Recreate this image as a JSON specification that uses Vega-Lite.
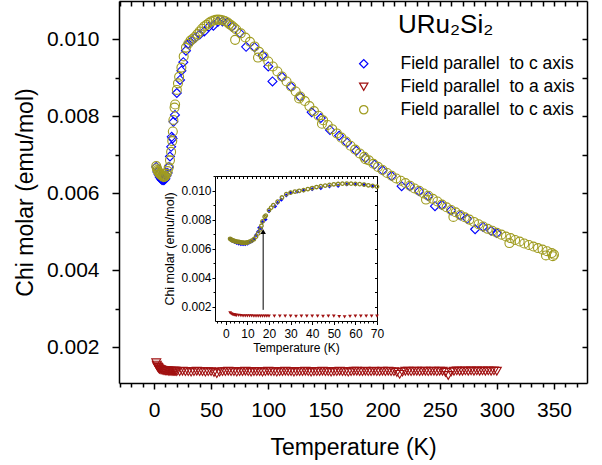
{
  "$schema": "https://vega.github.io/schema/vega-lite/v6.json",
  "width": 468,
  "height": 382,
  "autosize": {"type": "none"},
  "padding": {"left": 119, "top": 1, "right": 15, "bottom": 82},
  "background": "white",
  "title": {
    "text": "URu\u2082Si\u2082",
    "anchor": "start",
    "frame": "group",
    "baseline": "alphabetic",
    "offset": 0,
    "dx": 279,
    "dy": 59,
    "font": "Liberation Sans",
    "fontSize": 26,
    "fontWeight": "normal",
    "color": "black"
  },
  "config": {
    "font": "Liberation Sans",
    "view": {"stroke": null},
    "axis": {
      "grid": false,
      "domainColor": "black",
      "tickColor": "black",
      "labelColor": "black",
      "titleColor": "black",
      "labelFont": "Liberation Sans",
      "titleFont": "Liberation Sans",
      "labelFontWeight": "normal",
      "titleFontWeight": "normal",
      "labelOverlap": false,
      "labelFlush": false,
      "labelBound": false
    },
    "legend": {
      "labelFont": "Liberation Sans",
      "labelFontWeight": "normal",
      "labelColor": "black",
      "labelFontSize": 17.5,
      "labelLimit": 300,
      "symbolSize": 70,
      "symbolStrokeWidth": 1.2,
      "labelOffset": 28,
      "rowPadding": 4,
      "padding": 0
    }
  },
  "datasets": {
    "pts": [
      {"s":"c1","T":2,"chi":0.00668},{"s":"c1","T":3,"chi":0.00655},{"s":"c1","T":4,"chi":0.00648},{"s":"c1","T":5,"chi":0.00642},{"s":"c1","T":6,"chi":0.00637},{"s":"c1","T":7,"chi":0.00634},{"s":"c1","T":8,"chi":0.00633},{"s":"c1","T":9,"chi":0.00634},{"s":"c1","T":10,"chi":0.00637},{"s":"c1","T":11,"chi":0.00645},{"s":"c1","T":12,"chi":0.00652},{"s":"c1","T":13,"chi":0.00668},{"s":"c1","T":14,"chi":0.00695},{"s":"c1","T":15,"chi":0.0072},{"s":"c1","T":15.5,"chi":0.00746},{"s":"c1","T":16.3,"chi":0.00742},{"s":"c1","T":17,"chi":0.00785},{"s":"c1","T":18.4,"chi":0.00803},{"s":"c1","T":20,"chi":0.0086},{"s":"c1","T":22.8,"chi":0.00894},{"s":"c1","T":24,"chi":0.00918},{"s":"c1","T":25.7,"chi":0.0094},{"s":"c1","T":28,"chi":0.0097},{"s":"c1","T":30,"chi":0.00988},{"s":"c1","T":33,"chi":0.00996},{"s":"c1","T":36,"chi":0.01003},{"s":"c1","T":40,"chi":0.01012},{"s":"c1","T":44,"chi":0.0102},{"s":"c1","T":48,"chi":0.01032},{"s":"c1","T":52,"chi":0.01035},{"s":"c1","T":56,"chi":0.01045},{"s":"c1","T":60,"chi":0.01046},{"s":"c1","T":64,"chi":0.01043},{"s":"c1","T":68,"chi":0.01032},{"s":"c1","T":75,"chi":0.01016},{"s":"c1","T":80.6,"chi":0.0098},{"s":"c1","T":88,"chi":0.00979},{"s":"c1","T":95,"chi":0.00958},{"s":"c1","T":100,"chi":0.00929},{"s":"c1","T":103.7,"chi":0.0089},{"s":"c1","T":112,"chi":0.00902},{"s":"c1","T":120,"chi":0.00876},{"s":"c1","T":128,"chi":0.0085},{"s":"c1","T":138,"chi":0.0081},{"s":"c1","T":146,"chi":0.00795},{"s":"c1","T":154,"chi":0.00764},{"s":"c1","T":162,"chi":0.00749},{"s":"c1","T":169,"chi":0.00731},{"s":"c1","T":177,"chi":0.0071},{"s":"c1","T":185,"chi":0.00691},{"s":"c1","T":193,"chi":0.00674},{"s":"c1","T":200,"chi":0.00659},{"s":"c1","T":208,"chi":0.00644},{"s":"c1","T":216.7,"chi":0.00618},{"s":"c1","T":224,"chi":0.00618},{"s":"c1","T":232,"chi":0.00605},{"s":"c1","T":240,"chi":0.00592},{"s":"c1","T":245.9,"chi":0.00566},{"s":"c1","T":252,"chi":0.00569},{"s":"c1","T":260,"chi":0.00555},{"s":"c1","T":268,"chi":0.00542},{"s":"c1","T":274,"chi":0.00533},{"s":"c1","T":281,"chi":0.00506},{"s":"c1","T":288,"chi":0.00512},{"s":"c1","T":295,"chi":0.00502},{"s":"c1","T":300,"chi":0.00496},
      {"s":"a","T":2,"chi":0.00159},{"s":"a","T":2.5,"chi":0.00153},{"s":"a","T":3,"chi":0.00149},{"s":"a","T":3.5,"chi":0.00147},{"s":"a","T":4,"chi":0.00145},{"s":"a","T":4.5,"chi":0.00143},{"s":"a","T":5,"chi":0.00142},{"s":"a","T":6,"chi":0.00141},{"s":"a","T":7,"chi":0.0014},{"s":"a","T":8,"chi":0.00139},{"s":"a","T":9,"chi":0.00139},{"s":"a","T":10,"chi":0.00138},{"s":"a","T":11,"chi":0.00138},{"s":"a","T":12,"chi":0.00138},{"s":"a","T":13,"chi":0.00137},{"s":"a","T":14,"chi":0.00137},{"s":"a","T":15,"chi":0.00137},{"s":"a","T":16,"chi":0.00137},{"s":"a","T":17,"chi":0.00137},{"s":"a","T":18,"chi":0.00137},{"s":"a","T":19,"chi":0.00137},{"s":"a","T":20,"chi":0.00136},
      {"s":"a","T":22.5,"chi":0.00136},{"s":"a","T":25,"chi":0.00137},{"s":"a","T":27.5,"chi":0.00136},{"s":"a","T":30,"chi":0.00136},{"s":"a","T":32.5,"chi":0.00135},{"s":"a","T":35,"chi":0.00136},{"s":"a","T":37.5,"chi":0.00137},{"s":"a","T":40,"chi":0.00136},{"s":"a","T":42.5,"chi":0.00136},{"s":"a","T":45,"chi":0.00135},{"s":"a","T":47.5,"chi":0.00136},{"s":"a","T":50,"chi":0.00136},{"s":"a","T":52.5,"chi":0.00134},{"s":"a","T":55,"chi":0.00131},{"s":"a","T":57.5,"chi":0.00135},{"s":"a","T":60,"chi":0.00136},{"s":"a","T":62.5,"chi":0.00136},{"s":"a","T":65,"chi":0.00137},{"s":"a","T":67.5,"chi":0.00136},{"s":"a","T":70,"chi":0.00136},{"s":"a","T":72.5,"chi":0.00135},{"s":"a","T":75,"chi":0.00136},{"s":"a","T":77.5,"chi":0.00136},{"s":"a","T":80,"chi":0.00137},{"s":"a","T":82.5,"chi":0.00136},{"s":"a","T":85,"chi":0.00135},{"s":"a","T":87.5,"chi":0.00136},{"s":"a","T":90,"chi":0.00136},{"s":"a","T":92.5,"chi":0.00136},{"s":"a","T":95,"chi":0.00135},{"s":"a","T":97.5,"chi":0.00136},{"s":"a","T":100,"chi":0.00137},{"s":"a","T":102.5,"chi":0.00136},{"s":"a","T":105,"chi":0.00136},{"s":"a","T":107.5,"chi":0.00135},{"s":"a","T":110,"chi":0.00136},{"s":"a","T":112.5,"chi":0.00136},{"s":"a","T":115,"chi":0.00137},{"s":"a","T":117.5,"chi":0.00136},{"s":"a","T":120,"chi":0.00136},{"s":"a","T":122.5,"chi":0.00135},{"s":"a","T":125,"chi":0.00136},{"s":"a","T":127.5,"chi":0.00136},{"s":"a","T":130,"chi":0.00136},{"s":"a","T":132.5,"chi":0.00137},{"s":"a","T":135,"chi":0.00136},{"s":"a","T":137.5,"chi":0.00135},{"s":"a","T":140,"chi":0.00136},{"s":"a","T":142.5,"chi":0.00136},{"s":"a","T":145,"chi":0.00136},{"s":"a","T":147.5,"chi":0.00137},{"s":"a","T":150,"chi":0.00136},{"s":"a","T":152.5,"chi":0.00136},{"s":"a","T":155,"chi":0.00135},{"s":"a","T":157.5,"chi":0.00136},{"s":"a","T":160,"chi":0.00136},{"s":"a","T":162.5,"chi":0.00137},{"s":"a","T":165,"chi":0.00136},{"s":"a","T":167.5,"chi":0.00136},{"s":"a","T":170,"chi":0.00135},{"s":"a","T":172.5,"chi":0.00136},{"s":"a","T":175,"chi":0.00137},{"s":"a","T":177.5,"chi":0.00137},{"s":"a","T":180,"chi":0.00136},{"s":"a","T":182.5,"chi":0.00136},{"s":"a","T":185,"chi":0.00137},{"s":"a","T":187.5,"chi":0.00136},{"s":"a","T":190,"chi":0.00136},{"s":"a","T":192.5,"chi":0.00137},{"s":"a","T":195,"chi":0.00136},{"s":"a","T":197.5,"chi":0.00136},{"s":"a","T":200,"chi":0.00137},{"s":"a","T":202.5,"chi":0.00136},{"s":"a","T":205,"chi":0.00137},{"s":"a","T":207.5,"chi":0.00136},{"s":"a","T":210,"chi":0.00136},{"s":"a","T":212.5,"chi":0.00134},{"s":"a","T":215,"chi":0.00129},{"s":"a","T":217.5,"chi":0.00135},{"s":"a","T":220,"chi":0.00137},{"s":"a","T":222.5,"chi":0.00137},{"s":"a","T":225,"chi":0.00136},{"s":"a","T":227.5,"chi":0.00137},{"s":"a","T":230,"chi":0.00137},{"s":"a","T":232.5,"chi":0.00136},{"s":"a","T":235,"chi":0.00137},{"s":"a","T":237.5,"chi":0.00137},{"s":"a","T":240,"chi":0.00136},{"s":"a","T":242.5,"chi":0.00137},{"s":"a","T":245,"chi":0.00137},{"s":"a","T":247.5,"chi":0.00136},{"s":"a","T":250,"chi":0.00137},{"s":"a","T":252.5,"chi":0.00137},{"s":"a","T":255,"chi":0.00134},{"s":"a","T":257.5,"chi":0.00126},{"s":"a","T":260,"chi":0.00135},{"s":"a","T":262.5,"chi":0.00137},{"s":"a","T":265,"chi":0.00138},{"s":"a","T":267.5,"chi":0.00137},{"s":"a","T":270,"chi":0.00137},{"s":"a","T":272.5,"chi":0.00138},{"s":"a","T":275,"chi":0.00137},{"s":"a","T":277.5,"chi":0.00138},{"s":"a","T":280,"chi":0.00137},{"s":"a","T":282.5,"chi":0.00138},{"s":"a","T":285,"chi":0.00137},{"s":"a","T":287.5,"chi":0.00138},{"s":"a","T":290,"chi":0.00137},{"s":"a","T":292.5,"chi":0.00138},{"s":"a","T":295,"chi":0.00137},{"s":"a","T":297.5,"chi":0.00138},{"s":"a","T":300,"chi":0.00137},
      {"s":"c2","T":2,"chi":0.0067},{"s":"c2","T":2.5,"chi":0.00664},{"s":"c2","T":3,"chi":0.0066},{"s":"c2","T":3.5,"chi":0.00657},{"s":"c2","T":4,"chi":0.00655},{"s":"c2","T":4.5,"chi":0.00652},{"s":"c2","T":5,"chi":0.0065},{"s":"c2","T":5.5,"chi":0.00649},{"s":"c2","T":6,"chi":0.00648},{"s":"c2","T":6.5,"chi":0.00647},{"s":"c2","T":7,"chi":0.00645},{"s":"c2","T":7.5,"chi":0.00644},{"s":"c2","T":8,"chi":0.00643},{"s":"c2","T":8.5,"chi":0.00642},{"s":"c2","T":9,"chi":0.00642},{"s":"c2","T":9.5,"chi":0.00643},{"s":"c2","T":10,"chi":0.00645},{"s":"c2","T":11,"chi":0.0065},{"s":"c2","T":12,"chi":0.00657},{"s":"c2","T":13,"chi":0.00667},{"s":"c2","T":14,"chi":0.00685},{"s":"c2","T":15,"chi":0.00707},{"s":"c2","T":16,"chi":0.00735},{"s":"c2","T":16.5,"chi":0.0076},{"s":"c2","T":17,"chi":0.0079},{"s":"c2","T":18,"chi":0.00822},{"s":"c2","T":18.5,"chi":0.0083},{"s":"c2","T":20,"chi":0.00868},{"s":"c2","T":21,"chi":0.00885},{"s":"c2","T":22,"chi":0.00902},{"s":"c2","T":24,"chi":0.00926},{"s":"c2","T":26,"chi":0.00955},{"s":"c2","T":28,"chi":0.00978},{"s":"c2","T":30,"chi":0.00988},{"s":"c2","T":32,"chi":0.00996},{"s":"c2","T":34,"chi":0.01001},{"s":"c2","T":36,"chi":0.01006},{"s":"c2","T":38,"chi":0.01013},{"s":"c2","T":40,"chi":0.0102},{"s":"c2","T":42,"chi":0.01027},{"s":"c2","T":44,"chi":0.01033},{"s":"c2","T":46,"chi":0.01037},{"s":"c2","T":48,"chi":0.01042},{"s":"c2","T":50,"chi":0.01046},{"s":"c2","T":52,"chi":0.01048},{"s":"c2","T":54,"chi":0.0105},{"s":"c2","T":56,"chi":0.01051},{"s":"c2","T":58,"chi":0.0105},{"s":"c2","T":60,"chi":0.01049},{"s":"c2","T":62,"chi":0.01047},{"s":"c2","T":64,"chi":0.01044},{"s":"c2","T":66,"chi":0.01039},{"s":"c2","T":68,"chi":0.01035},{"s":"c2","T":70,"chi":0.0103},
      {"s":"c2","T":71,"chi":0.00998},{"s":"c2","T":72,"chi":0.01025},{"s":"c2","T":76,"chi":0.01015},{"s":"c2","T":80,"chi":0.01004},{"s":"c2","T":84,"chi":0.00993},{"s":"c2","T":88,"chi":0.00981},{"s":"c2","T":91,"chi":0.00952},{"s":"c2","T":92,"chi":0.00967},{"s":"c2","T":96,"chi":0.00955},{"s":"c2","T":100,"chi":0.00942},{"s":"c2","T":104,"chi":0.00929},{"s":"c2","T":108,"chi":0.00916},{"s":"c2","T":112,"chi":0.00903},{"s":"c2","T":116,"chi":0.0089},{"s":"c2","T":120,"chi":0.00877},{"s":"c2","T":124,"chi":0.00864},{"s":"c2","T":127,"chi":0.00846},{"s":"c2","T":128,"chi":0.00851},{"s":"c2","T":132,"chi":0.00839},{"s":"c2","T":136,"chi":0.00826},{"s":"c2","T":140,"chi":0.00813},{"s":"c2","T":144,"chi":0.00801},{"s":"c2","T":147,"chi":0.0078},{"s":"c2","T":148,"chi":0.00789},{"s":"c2","T":152,"chi":0.00777},{"s":"c2","T":156,"chi":0.00766},{"s":"c2","T":160,"chi":0.00755},{"s":"c2","T":164,"chi":0.00744},{"s":"c2","T":168,"chi":0.00734},{"s":"c2","T":172,"chi":0.00723},{"s":"c2","T":176,"chi":0.00713},{"s":"c2","T":180,"chi":0.00703},{"s":"c2","T":184,"chi":0.00694},{"s":"c2","T":185,"chi":0.00688},{"s":"c2","T":188,"chi":0.00685},{"s":"c2","T":192,"chi":0.00676},{"s":"c2","T":196,"chi":0.00668},{"s":"c2","T":200,"chi":0.0066},{"s":"c2","T":204,"chi":0.00652},{"s":"c2","T":208,"chi":0.00645},{"s":"c2","T":212,"chi":0.00638},{"s":"c2","T":216,"chi":0.00632},{"s":"c2","T":220,"chi":0.00626},{"s":"c2","T":224,"chi":0.00619},{"s":"c2","T":228,"chi":0.00612},{"s":"c2","T":232,"chi":0.00606},{"s":"c2","T":236,"chi":0.00599},{"s":"c2","T":238,"chi":0.00583},{"s":"c2","T":240,"chi":0.00593},{"s":"c2","T":244,"chi":0.00585},{"s":"c2","T":248,"chi":0.00578},{"s":"c2","T":252,"chi":0.0057},{"s":"c2","T":256,"chi":0.00563},{"s":"c2","T":260,"chi":0.00556},{"s":"c2","T":262,"chi":0.00538},{"s":"c2","T":264,"chi":0.0055},{"s":"c2","T":268,"chi":0.00543},{"s":"c2","T":272,"chi":0.00537},{"s":"c2","T":276,"chi":0.00531},{"s":"c2","T":280,"chi":0.00525},{"s":"c2","T":284,"chi":0.00519},{"s":"c2","T":288,"chi":0.00513},{"s":"c2","T":292,"chi":0.00507},{"s":"c2","T":296,"chi":0.00502},{"s":"c2","T":300,"chi":0.00497},{"s":"c2","T":304,"chi":0.00492},{"s":"c2","T":308,"chi":0.00487},{"s":"c2","T":311,"chi":0.0047},{"s":"c2","T":312,"chi":0.00483},{"s":"c2","T":316,"chi":0.00478},{"s":"c2","T":320,"chi":0.00474},{"s":"c2","T":324,"chi":0.00469},{"s":"c2","T":328,"chi":0.00465},{"s":"c2","T":332,"chi":0.00461},{"s":"c2","T":336,"chi":0.00457},{"s":"c2","T":340,"chi":0.00453},{"s":"c2","T":343,"chi":0.00438},{"s":"c2","T":344,"chi":0.00449},{"s":"c2","T":348,"chi":0.00444},{"s":"c2","T":349,"chi":0.00436},{"s":"c2","T":350,"chi":0.0044}
    ],
    "arrow": [
      {"T": 17.3, "chi": 0.0018, "chi2": 0.0072}
    ]
  },
  "layer": [
    {
      "data": {"name": "pts"},
      "mark": {"type": "point", "filled": false, "opacity": 1, "strokeWidth": 1.1, "size": 80},
      "encoding": {
        "x": {
          "field": "T", "type": "quantitative",
          "scale": {"domain": [-30.6, 378.9], "nice": false, "zero": false},
          "axis": {
            "orient": "bottom",
            "values": [-30,-20,-10,0,10,20,30,40,50,60,70,80,90,100,110,120,130,140,150,160,170,180,190,200,210,220,230,240,250,260,270,280,290,300,310,320,330,340,350,360,370],
            "format": "d",
            "labelExpr": "datum.value % 50 === 0 ? datum.label : ''",
            "tickSize": {"condition": {"test": "datum.value % 50 === 0", "value": 6}, "value": 4},
            "labelPadding": 10,
            "labelFontSize": 21,
            "title": "Temperature (K)",
            "titleFontSize": 23,
            "titlePadding": 16,
            "domainWidth": 1.5,
            "tickWidth": 1.5
          }
        },
        "y": {
          "field": "chi", "type": "quantitative",
          "scale": {"domain": [0.001065, 0.01099], "nice": false, "zero": false},
          "axis": {
            "orient": "left",
            "values": [0.002,0.003,0.004,0.005,0.006,0.007,0.008,0.009,0.010],
            "format": ".3f",
            "labelExpr": "round(datum.value*1000) % 2 === 0 ? datum.label : ''",
            "tickSize": {"condition": {"test": "round(datum.value*1000) % 2 === 0", "value": 7}, "value": 4},
            "labelPadding": 13,
            "labelFontSize": 21,
            "title": "Chi molar (emu/mol)",
            "titleFontSize": 23,
            "titlePadding": 9,
            "domainWidth": 1.5,
            "tickWidth": 1.5
          }
        },
        "color": {
          "field": "s", "type": "nominal",
          "scale": {"domain": ["c1", "a", "c2"], "range": ["#0000ff", "#a01010", "#a09c20"]},
          "legend": {
            "title": null,
            "orient": "none", "legendX": 236, "legendY": 54,
            "labelExpr": "datum.label === 'a' ? 'Field parallel\u00a0 to a axis' : 'Field parallel\u00a0 to c axis'"
          }
        },
        "shape": {
          "field": "s", "type": "nominal",
          "scale": {"domain": ["c1", "a", "c2"], "range": ["diamond", "triangle-down", "circle"]},
          "legend": {
            "title": null,
            "orient": "none", "legendX": 236, "legendY": 54,
            "labelExpr": "datum.label === 'a' ? 'Field parallel\u00a0 to a axis' : 'Field parallel\u00a0 to c axis'"
          }
        }
      }
    },
    {
      "data": {"name": "pts"},
      "mark": {"type": "point", "opacity": 0},
      "encoding": {
        "x": {
          "field": "T", "type": "quantitative",
          "scale": {"domain": [-30.6, 378.9], "nice": false, "zero": false},
          "axis": {
            "orient": "top",
            "values": [-30,-20,-10,0,10,20,30,40,50,60,70,80,90,100,110,120,130,140,150,160,170,180,190,200,210,220,230,240,250,260,270,280,290,300,310,320,330,340,350,360,370],
            "labels": false, "title": null, "tickSize": -5,
            "domainWidth": 1.5, "tickWidth": 1.5
          }
        },
        "y": {
          "field": "chi", "type": "quantitative",
          "scale": {"domain": [0.001065, 0.01099], "nice": false, "zero": false},
          "axis": {
            "orient": "right",
            "values": [0.002,0.003,0.004,0.005,0.006,0.007,0.008,0.009,0.010],
            "labels": false, "title": null, "tickSize": -5,
            "domainWidth": 1.5, "tickWidth": 1.5
          }
        }
      }
    },
    {
      "data": {"name": "pts"},
      "transform": [{"filter": "datum.T <= 70"}],
      "encoding": {
        "x": {
          "field": "T", "type": "quantitative",
          "scale": {"domain": [-5, 70], "range": [96, 258], "nice": false, "zero": false},
          "axis": {
            "orient": "bottom", "offset": -62,
            "values": [-4,-2,0,2,4,6,8,10,12,14,16,18,20,22,24,26,28,30,32,34,36,38,40,42,44,46,48,50,52,54,56,58,60,62,64,66,68,70],
            "format": "d",
            "labelExpr": "datum.value % 10 === 0 ? datum.label : ''",
            "tickSize": {"condition": {"test": "datum.value % 10 === 0", "value": 3.5}, "value": 2},
            "labelPadding": 4,
            "labelFontSize": 12,
            "title": "Temperature (K)",
            "titleFontSize": 12,
            "titlePadding": 3,
            "domainWidth": 1, "tickWidth": 1
          }
        },
        "y": {
          "field": "chi", "type": "quantitative",
          "scale": {"domain": [0.00103, 0.01103], "range": [320, 175], "nice": false, "zero": false},
          "axis": {
            "orient": "left", "offset": -96,
            "values": [0.002,0.003,0.004,0.005,0.006,0.007,0.008,0.009,0.010,0.011],
            "format": ".3f",
            "labelExpr": "round(datum.value*1000) % 2 === 0 && datum.value < 0.0105 ? datum.label : ''",
            "tickSize": {"condition": {"test": "round(datum.value*1000) % 2 === 0", "value": 3}, "value": 2},
            "labelPadding": 1,
            "labelFontSize": 12,
            "title": "Chi molar (emu/mol)",
            "titleFontSize": 12.5,
            "titlePadding": 4,
            "domainWidth": 1, "tickWidth": 1
          }
        }
      },
      "layer": [
        {
          "transform": [{"filter": "datum.s === 'c1'"}],
          "mark": {"type": "point", "filled": true, "opacity": 1, "shape": "diamond", "size": 18, "color": "#0000ff"}
        },
        {
          "transform": [{"filter": "datum.s === 'a'"}],
          "mark": {"type": "point", "filled": true, "opacity": 1, "shape": "triangle-down", "size": 14, "color": "#a01010"}
        },
        {
          "transform": [{"filter": "datum.s === 'c2'"}],
          "mark": {"type": "point", "filled": false, "opacity": 1, "shape": "circle", "size": 12, "strokeWidth": 1.3, "color": "#8a8620"}
        },
        {
          "data": {"name": "arrow"},
          "mark": {"type": "rule", "color": "black", "strokeWidth": 1},
          "encoding": {"y2": {"field": "chi2"}}
        },
        {
          "data": {"name": "arrow"},
          "mark": {"type": "point", "shape": "triangle-up", "filled": true, "opacity": 1, "color": "black", "size": 30},
          "encoding": {"y": {"field": "chi2", "type": "quantitative"}}
        }
      ]
    },
    {
      "data": {"name": "pts"},
      "mark": {"type": "point", "opacity": 0},
      "encoding": {
        "x": {
          "field": "T", "type": "quantitative",
          "scale": {"domain": [-5, 70], "range": [96, 258], "nice": false, "zero": false},
          "axis": {
            "orient": "top", "offset": -175,
            "values": [-4,-2,0,2,4,6,8,10,12,14,16,18,20,22,24,26,28,30,32,34,36,38,40,42,44,46,48,50,52,54,56,58,60,62,64,66,68,70],
            "labels": false, "title": null, "tickSize": -2.5,
            "domainWidth": 1, "tickWidth": 1
          }
        },
        "y": {
          "field": "chi", "type": "quantitative",
          "scale": {"domain": [0.00103, 0.01103], "range": [320, 175], "nice": false, "zero": false},
          "axis": {
            "orient": "right", "offset": -210,
            "values": [0.002,0.003,0.004,0.005,0.006,0.007,0.008,0.009,0.010,0.011],
            "labels": false, "title": null, "tickSize": -2.5,
            "domainWidth": 1, "tickWidth": 1
          }
        }
      }
    }
  ],
  "resolve": {
    "scale": {"x": "independent", "y": "independent"},
    "axis": {"x": "independent", "y": "independent"}
  }
}
